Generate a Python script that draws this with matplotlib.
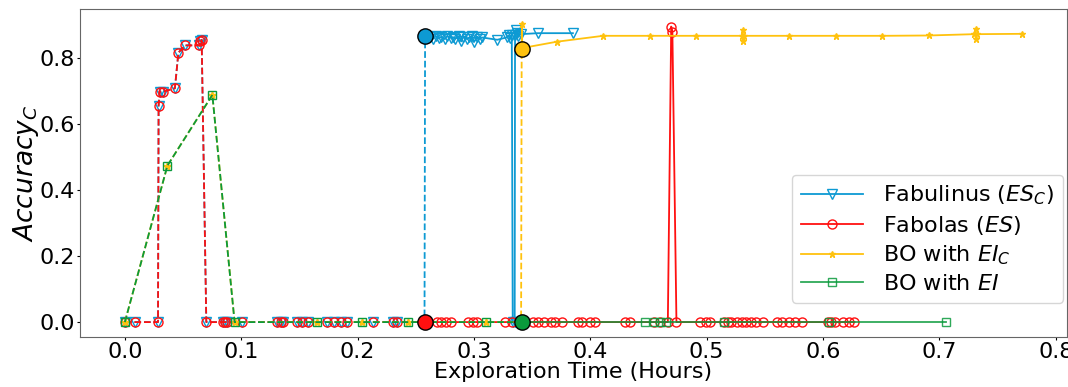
import matplotlib
matplotlib.use('Agg')
import matplotlib.pyplot as plt

# shared initial design (Fabulinus / Fabolas)
init_es_t = [0.0, 0.009, 0.0285, 0.029, 0.030, 0.033, 0.043, 0.046, 0.052, 0.064, 0.065, 0.066,
             0.070, 0.084, 0.086, 0.088, 0.101, 0.131, 0.134, 0.136, 0.148, 0.152, 0.157,
             0.174, 0.180, 0.186, 0.191, 0.213, 0.230, 0.234, 0.2575]
init_es_acc = [0, 0, 0, 0.655, 0.698, 0.698, 0.708, 0.816, 0.838, 0.838, 0.850, 0.855,
               0, 0, 0, 0, 0, 0, 0, 0, 0, 0, 0,
               0, 0, 0, 0, 0, 0, 0, 0]

# shared initial design (BO with EI_C / EI)
init_bo_t = [0.0, 0.0366, 0.0752, 0.0943, 0.165, 0.204, 0.243, 0.310, 0.3405]
init_bo_acc = [0, 0.474, 0.688, 0, 0, 0, 0, 0, 0]

# Fabulinus (ES_C)
fabulinus_t = [0.258, 0.262, 0.265, 0.267, 0.270, 0.272, 0.275, 0.277, 0.280, 0.282, 0.284,
               0.287, 0.289, 0.291, 0.294, 0.296, 0.298, 0.300, 0.303, 0.305, 0.307, 0.320,
               0.328, 0.330, 0.331, 0.3325, 0.3333, 0.3350, 0.3353, 0.336, 0.337, 0.338,
               0.340, 0.355, 0.385]
fabulinus_acc = [0.865, 0.862, 0.858, 0.866, 0.860, 0.864, 0.857, 0.866, 0.861, 0.863, 0.858,
                 0.866, 0.850, 0.864, 0.857, 0.862, 0.866, 0.848, 0.864, 0.858, 0.862, 0.855,
                 0.862, 0.868, 0.860, 0.870, 0.0, 0.0, 0.870, 0.885, 0.875, 0.865,
                 0.872, 0.875, 0.875]

# Fabolas (ES)
fabolas_t = [0.258, 0.268, 0.272, 0.276, 0.280, 0.295, 0.299, 0.303, 0.327, 0.333, 0.351,
             0.355, 0.360, 0.366, 0.370, 0.376, 0.389, 0.393, 0.400, 0.404, 0.430, 0.434,
             0.455, 0.460, 0.4666, 0.4695, 0.4705, 0.474, 0.494, 0.499, 0.503, 0.515, 0.518,
             0.521, 0.526, 0.530, 0.534, 0.538, 0.542, 0.548, 0.560, 0.565, 0.571, 0.576,
             0.582, 0.604, 0.607, 0.610, 0.617, 0.622, 0.627]
fabolas_acc = [0, 0, 0, 0, 0, 0, 0, 0, 0, 0, 0,
               0, 0, 0, 0, 0, 0, 0, 0, 0, 0, 0,
               0, 0, 0, 0.895, 0.880, 0, 0, 0, 0, 0, 0,
               0, 0, 0, 0, 0, 0, 0, 0, 0, 0, 0,
               0, 0, 0, 0, 0, 0, 0]

# BO with EI_C
eic_t = [0.341, 0.3412, 0.3415, 0.371, 0.411, 0.451, 0.491, 0.530, 0.531, 0.5312, 0.532,
         0.571, 0.611, 0.651, 0.691, 0.730, 0.731, 0.7312, 0.732, 0.771]
eic_acc = [0.826, 0.903, 0.830, 0.849, 0.867, 0.867, 0.867, 0.867, 0.885, 0.850, 0.867,
           0.867, 0.867, 0.867, 0.868, 0.872, 0.887, 0.856, 0.872, 0.873]

# BO with EI
ei_t = [0.341, 0.447, 0.455, 0.460, 0.465, 0.515, 0.605, 0.706]
ei_acc = [0, 0, 0, 0, 0, 0, 0, 0]

c_blue = '#0d9ad3'
c_red = '#ff1010'
c_yel = '#ffc20e'
c_grn = '#0a9a3c'

fig = plt.figure(figsize=(10.68, 3.87), dpi=100)
ax = fig.add_axes([0.0749, 0.1292, 0.9241, 0.8475])

# initial (dashed) phases
ax.plot(init_es_t + [fabulinus_t[0]], init_es_acc + [fabulinus_acc[0]], '--', color=c_blue,
        marker='v', mfc='none', ms=6.5, lw=1.3, zorder=2)
ax.plot(init_es_t + [fabolas_t[0]], init_es_acc + [fabolas_acc[0]], '--', color=c_red,
        marker='o', mfc='none', ms=6.5, lw=1.3, zorder=3)
ax.plot(init_bo_t + [eic_t[0]], init_bo_acc + [eic_acc[0]], '--', color=c_yel,
        marker='*', ms=6, lw=1.3, zorder=4)
ax.plot(init_bo_t + [ei_t[0]], init_bo_acc + [ei_acc[0]], '--', color=c_grn,
        marker='s', mfc='none', ms=6, lw=1.3, zorder=5)

# optimisation phases
ax.plot(fabulinus_t, fabulinus_acc, '-', color=c_blue, marker='v', mfc='none', ms=6.5, lw=1.3,
        zorder=2, label='Fabulinus ($ES_C$)')
ax.plot(fabolas_t, fabolas_acc, '-', color=c_red, marker='o', mfc='none', ms=6.5, lw=1.3,
        zorder=3, label='Fabolas ($ES$)')
ax.plot(eic_t, eic_acc, '-', color=c_yel, marker='*', ms=5, lw=1.3, zorder=4,
        label='BO with $EI_C$')
ax.plot(ei_t, ei_acc, '-', color=c_grn, marker='s', mfc='none', ms=6, lw=1.3, alpha=0.85,
        zorder=5, label='BO with $EI$')

# switch points
for t, a, c in [(fabulinus_t[0], fabulinus_acc[0], c_blue), (fabolas_t[0], fabolas_acc[0], c_red),
                (eic_t[0], eic_acc[0], c_yel), (ei_t[0], ei_acc[0], c_grn)]:
    ax.plot(t, a, 'o', color=c, mec='black', ms=11, zorder=10)

ax.set_xlabel('Exploration Time (Hours)', fontsize=16, labelpad=0)
ax.set_ylabel('$Accuracy_C$', fontsize=19, labelpad=-1)
ax.tick_params(labelsize=16, pad=1, length=2.5)
for s in ax.spines.values():
    s.set_color('0.4')
ax.legend(loc='lower right', bbox_to_anchor=(0.996, 0.104), borderaxespad=0,
          fontsize=16, handlelength=2.8, handletextpad=0.9, labelspacing=0.3, numpoints=1)

fig.savefig('out.png', dpi=100)
